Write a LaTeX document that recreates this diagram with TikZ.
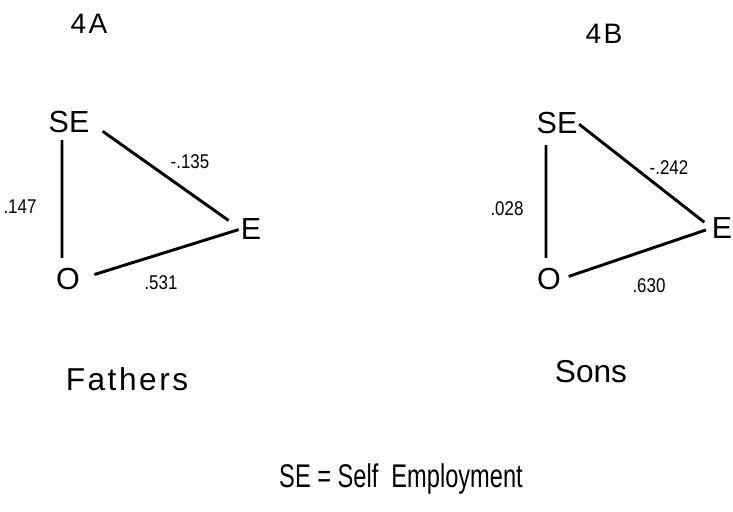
\documentclass[tikz,border=0pt]{standalone}
\usepackage{fontspec}
\setmainfont{Liberation Sans}
\newfontfamily\narrowfont[FakeStretch=0.72]{Liberation Sans}
\newfontfamily\digitfont[FakeStretch=0.85]{Liberation Sans}
\newfontfamily\spacedfont[LetterSpace=8]{Liberation Sans}

\begin{document}
\begin{tikzpicture}[x=0.03cm,y=-0.03cm,
    var/.style={inner sep=0pt,font=\fontsize{26}{26}\selectfont},
    coef/.style={inner sep=0pt,font=\fontsize{17}{17}\digitfont},
    panel/.style={inner sep=0pt,font=\fontsize{24}{24}\spacedfont},
    caption/.style={inner sep=0pt,font=\fontsize{27}{27}\selectfont},
    link/.style={line width=2.5pt}]
    \useasboundingbox (0,0) rectangle (733,512);

    % Panel 4A: fathers
    \node[panel] (panelA) at (89,24) {4A};
    \node[var] (seA) at (69,122) {SE};
    \node[var] (eA) at (251,229) {E};
    \node[var] (oA) at (68,279) {O};
    \draw[link, shorten <=2.1mm, shorten >=3mm] ([xshift=-2.1mm]seA.south) -- ([xshift=-1.8mm]oA.north);
    \draw[link, shorten <=4.8mm, shorten >=4.4mm] (seA.east) -- (eA.west);
    \draw[link, shorten <=4.5mm, shorten >=0.6mm] (oA.east) -- (eA.west);
    \node[coef] (rA1) at (20,207) {.147};
    \node[coef] (rA2) at (190,162) {-.135};
    \node[coef] (rA3) at (161,283) {.531};
    \node[caption] (capA) at (127,379) {\spacedfont Fathers};

    % Panel 4B: sons
    \node[panel] (panelB) at (604,34) {4B};
    \node[var] (seB) at (557,123) {SE};
    \node[var] (eB) at (722,228) {E};
    \node[var] (oB) at (549,279) {O};
    \draw[link, shorten <=3.3mm, shorten >=3mm] ([xshift=-3.3mm]seB.south) -- ([xshift=-0.9mm]oB.north);
    \draw[link, shorten <=0.6mm, shorten >=2.8mm] (seB.east) -- (eB.west);
    \draw[link, shorten <=2.4mm, shorten >=1.8mm] (oB.east) -- (eB.west);
    \node[coef] (rB1) at (507,209) {.028};
    \node[coef] (rB2) at (669,168) {-.242};
    \node[coef] (rB3) at (649,286) {.630};
    \node[caption] (capB) at (591,372) {Sons};

    % Key
    \node[inner sep=0pt,font=\fontsize{28}{28}\narrowfont] (key) at (401,479) {SE = Self\ \ Employment};
\end{tikzpicture}
\end{document}
